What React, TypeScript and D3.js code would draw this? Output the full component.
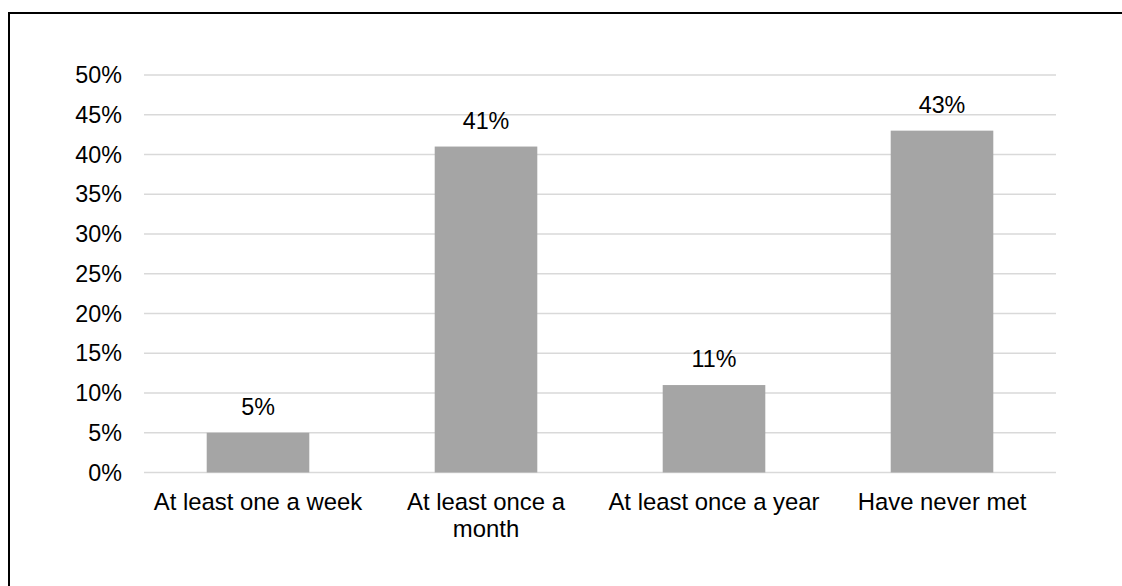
import React from "react";
import * as d3 from "d3";

const categories: string[][] = [
  ["At least one a week"],
  ["At least once a", "month"],
  ["At least once a year"],
  ["Have never met"],
];
const values: number[] = [5, 41, 11, 43];
const yTicks: number[] = [0, 5, 10, 15, 20, 25, 30, 35, 40, 45, 50];

const W = 1122;
const H = 586;
const plot = { left: 144, right: 1056, top: 75, bottom: 472.5 };
const FONT = "'Liberation Sans', Arial, sans-serif";
const FS = 23.3;
const FS_CAT = 23.9;

export default function App() {
  const x = d3
    .scaleBand<number>()
    .domain(values.map((_, i) => i))
    .range([plot.left, plot.right])
    .paddingInner(0.55)
    .paddingOuter(0.275);
  const y = d3.scaleLinear().domain([0, 50]).range([plot.bottom, plot.top]);
  const step = (plot.right - plot.left) / values.length;

  return (
    <svg
      width={W}
      height={H}
      style={{ position: "absolute", left: 0, top: 0, background: "#fff" }}
      fontFamily={FONT}
    >
      <rect x={0} y={0} width={W} height={H} fill="#fff" />
      <rect x={9} y={13} width={W + 20} height={H + 20} fill="none" stroke="#000" strokeWidth={2} />
      {yTicks.map((t) => (
        <g key={t}>
          <line
            x1={plot.left}
            x2={plot.right}
            y1={y(t)}
            y2={y(t)}
            stroke="#d9d9d9"
            strokeWidth={1.5}
          />
          <text x={122} y={y(t)} dy="0.35em" textAnchor="end" fontSize={FS} fill="#000">
            {t}%
          </text>
        </g>
      ))}
      {values.map((v, i) => (
        <g key={i}>
          <rect
            x={x(i)!}
            y={y(v)}
            width={x.bandwidth()}
            height={y(0) - y(v)}
            fill="#a5a5a5"
          />
          <text
            x={x(i)! + x.bandwidth() / 2}
            y={y(v) - 18}
            textAnchor="middle"
            fontSize={FS}
            fill="#000"
          >
            {v}%
          </text>
          <text
            x={plot.left + step * (i + 0.5)}
            y={510}
            textAnchor="middle"
            fontSize={FS_CAT}
            fill="#000"
          >
            {categories[i].map((line, j) => (
              <tspan key={j} x={plot.left + step * (i + 0.5)} dy={j === 0 ? 0 : 26.5}>
                {line}
              </tspan>
            ))}
          </text>
        </g>
      ))}
    </svg>
  );
}
